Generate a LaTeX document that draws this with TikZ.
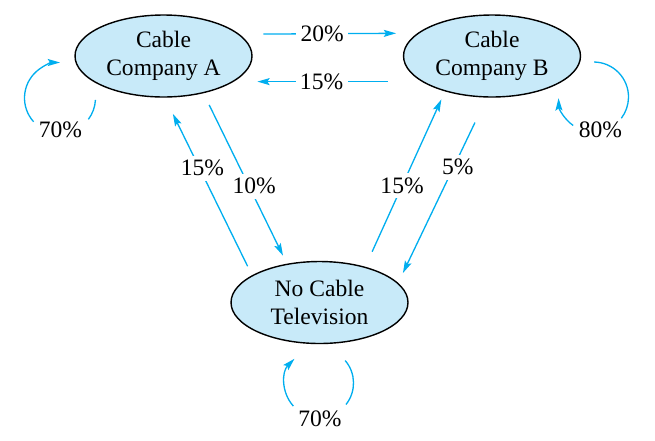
\documentclass[tikz,border=0pt]{standalone}
\usepackage{fontspec}
\setmainfont{Liberation Serif}
\usetikzlibrary{shapes.geometric,arrows.meta}
\definecolor{cablefill}{RGB}{200,234,249}
\definecolor{cableline}{RGB}{0,174,239}
\begin{document}
\begin{tikzpicture}[x=0.02cm, y=0.02cm,
  >={Stealth[length=7pt,width=4pt,inset=1.3pt]},
  state/.style={ellipse, draw=black, line width=0.8pt, fill=cablefill, minimum width=3.54cm, minimum height=1.64cm, align=center, inner sep=0pt},
  flow/.style={cableline, line width=0.75pt},
  pct/.style={fill=white, inner sep=2.5pt, text=black},
  font=\fontsize{13.4}{16.1}\selectfont]
\useasboundingbox (0,0) rectangle (655,-440);
\node[state] (A) at (163.5,-56) {Cable\\Company A};
\node[state] (B) at (492,-56) {Cable\\Company B};
\node[state] (C) at (319.5,-302.5) {No Cable\\Television};

% edges
\path[->] (A.16.4) edge [flow, shorten <=0.476cm, shorten >=0.426cm] node[pct, pos=0.465] (ab) {20\%} (B.163.6); % A to B
\path[->] (B.200.4) edge [flow, shorten <=0.68cm, shorten >=0.47cm] node[pct, pos=0.533] (ba) {15\%} (A.-20.4); % B to A
\path[->] (C.158.8) edge [flow, shorten <=0.2cm, shorten >=0.36cm] node[pct, pos=0.603, xshift=0.06cm] (ca) {15\%} (A.272.5); % C to A
\path[->] (A.-43.35) edge [flow, shorten <=0.26cm, shorten >=0.18cm] node[pct, pos=0.545, xshift=0.106cm] (ac) {10\%} (C.130.2); % A to C
\path[->] (C.38.8) edge [flow, shorten <=0.33cm, shorten >=0.176cm] node[pct, pos=0.4615] (cb) {15\%} (B.217.8); % C to B
\path[->] (B.263.2) edge [flow, shorten <=0.552cm, shorten >=0.218cm] node[pct, pos=0.376, xshift=0.084cm] (bc) {5\%} (C.14.3); % B to C

% loops
\coordinate (loopA) at (60,-98);
\coordinate (loopB) at (593.5,-97);
\coordinate (loopC) at (319,-383);
\node (aa) at (60.5,-130) {70\%};
\node (bb) at (600.5,-130) {80\%};
\node (cc) at (320,-419) {70\%};
\draw[flow] (loopA) ++(-3:35.5) arc[start angle=-3, end angle=-37, radius=35.5];
\draw[flow, ->] (loopA) ++(222:35.5) arc[start angle=222, end angle=90, radius=35.5]; % A to A
\draw[flow] (loopB) ++(89:35) arc[start angle=89, end angle=-37.4, radius=35];
\draw[flow, ->] (loopB) ++(234.5:35) arc[start angle=234.5, end angle=182, radius=35]; % B to B
\draw[flow] (loopC) ++(40.6:34.5) arc[start angle=40.6, end angle=-38.5, radius=34.5];
\draw[flow, ->] (loopC) ++(222:34.5) arc[start angle=222, end angle=135.4, radius=34.5]; % C to C
\end{tikzpicture}
\end{document}
